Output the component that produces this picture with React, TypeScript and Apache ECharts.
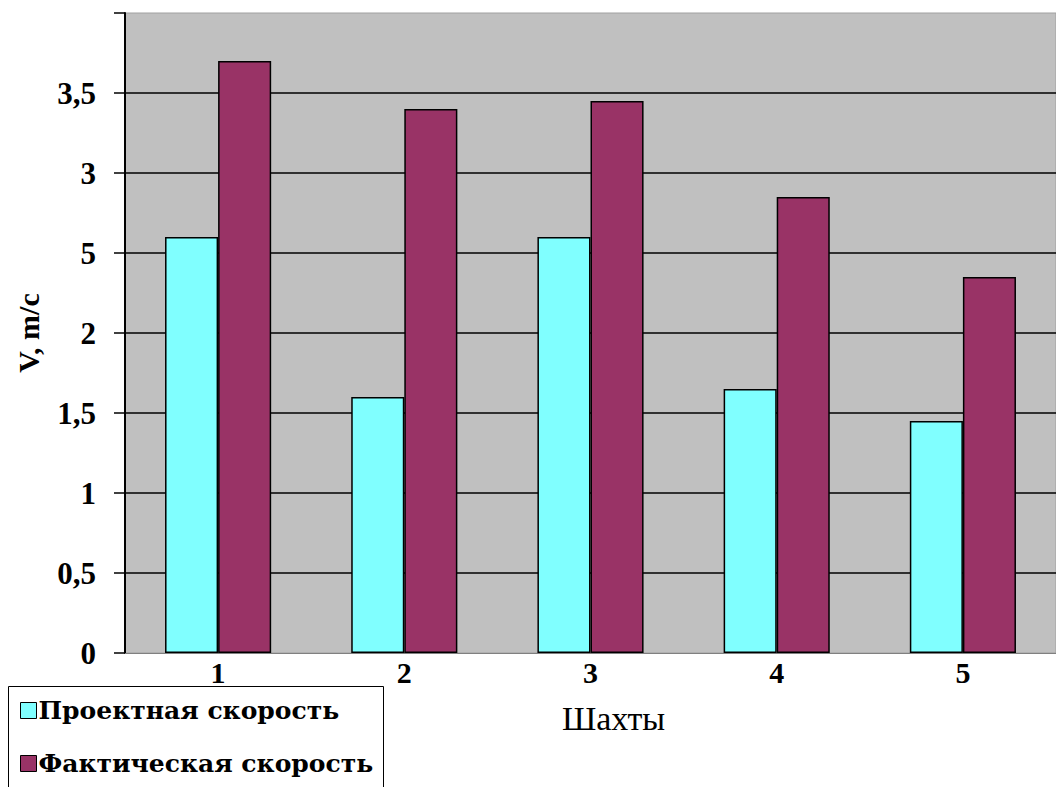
import React, { useEffect, useRef } from "react";
import * as echarts from "echarts";

const categories = ["1", "2", "3", "4", "5"];
const designSpeed = [2.6, 1.6, 2.6, 1.65, 1.45];
const actualSpeed = [3.7, 3.4, 3.45, 2.85, 2.35];
const seriesNames = ["Проектная скорость", "Фактическая скорость"];
const yTickLabels = ["0", "0,5", "1", "1,5", "2", "5", "3", "3,5", ""];
const yAxisTitle = "V, m/c";
const xAxisTitle = "Шахты";

const FONT = "Liberation Serif, DejaVu Serif, serif";

const legendText = {
  fontFamily: "DejaVu Serif",
  fontWeight: "bold",
  fontSize: 25,
  color: "#000",
};

export default function App() {
  const ref = useRef<HTMLDivElement>(null);
  useEffect(() => {
    if (!ref.current) return;
    const chart = echarts.init(ref.current, null, { renderer: "svg" });
    chart.setOption({
      animation: false,
      backgroundColor: "#ffffff",
      grid: {
        show: true,
        left: 125,
        top: 13,
        width: 935,
        height: 640,
        backgroundColor: "#C0C0C0",
        borderWidth: 1,
        borderColor: "#a0a0a0",
        containLabel: false,
      },
      graphic: [
        {
          type: "rect",
          left: 8,
          top: 686,
          shape: { width: 375, height: 130 },
          style: { fill: "#fff", stroke: "#000", lineWidth: 1 },
          z: 0,
        },
      ],
      legend: [
        {
          left: 20,
          top: 698,
          data: [seriesNames[0]],
          icon: "rect",
          itemWidth: 16,
          itemHeight: 16,
          itemGap: 0,
          padding: 0,
          itemStyle: { borderColor: "#000", borderWidth: 1 },
          textStyle: { ...legendText, padding: [0, 0, 0, -3] },
          z: 5,
        },
        {
          left: 20,
          top: 751,
          data: [seriesNames[1]],
          icon: "rect",
          itemWidth: 16,
          itemHeight: 16,
          itemGap: 0,
          padding: 0,
          itemStyle: { borderColor: "#000", borderWidth: 1 },
          textStyle: { ...legendText, padding: [0, 0, 0, -3] },
          z: 5,
        },
      ],
      xAxis: {
        type: "category",
        data: categories,
        name: xAxisTitle,
        nameLocation: "middle",
        nameGap: 48,
        nameTextStyle: {
          fontFamily: FONT,
          fontSize: 34,
          color: "#000",
          padding: [0, 0, 0, 46],
        },
        axisLine: { show: true, lineStyle: { color: "#808080", width: 1 } },
        axisTick: { show: false },
        axisLabel: {
          fontFamily: FONT,
          fontWeight: "bold",
          fontSize: 30,
          color: "#000",
          margin: 4,
        },
      },
      yAxis: {
        type: "value",
        min: 0,
        max: 4,
        interval: 0.5,
        name: yAxisTitle,
        nameLocation: "middle",
        nameRotate: 90,
        nameGap: 82,
        nameTextStyle: {
          fontFamily: FONT,
          fontWeight: "bold",
          fontSize: 30,
          color: "#000",
        },
        axisLine: { show: true, lineStyle: { color: "#000", width: 2 } },
        axisTick: { show: true, length: 11, lineStyle: { color: "#000", width: 1.5 } },
        axisLabel: {
          fontFamily: FONT,
          fontWeight: "bold",
          fontSize: 31,
          color: "#000",
          margin: 29,
          formatter: (v: number) => yTickLabels[Math.round(v / 0.5)] ?? "",
        },
        splitLine: {
          show: true,
          showMaxLine: false,
          showMinLine: false,
          lineStyle: { color: "#000", width: 1.5 },
        },
      },
      series: [
        {
          name: seriesNames[0],
          type: "bar",
          data: designSpeed,
          barGap: "0%",
          barCategoryGap: "43%",
          itemStyle: { color: "#80FFFF", borderColor: "#000", borderWidth: 1.5 },
        },
        {
          name: seriesNames[1],
          type: "bar",
          data: actualSpeed,
          barGap: "0%",
          barCategoryGap: "43%",
          itemStyle: { color: "#993366", borderColor: "#000", borderWidth: 1.5 },
        },
      ],
    });
    return () => chart.dispose();
  }, []);
  return (
    <div
      ref={ref}
      style={{ position: "absolute", left: 0, top: 0, width: 1056, height: 787, overflow: "hidden" }}
    />
  );
}
